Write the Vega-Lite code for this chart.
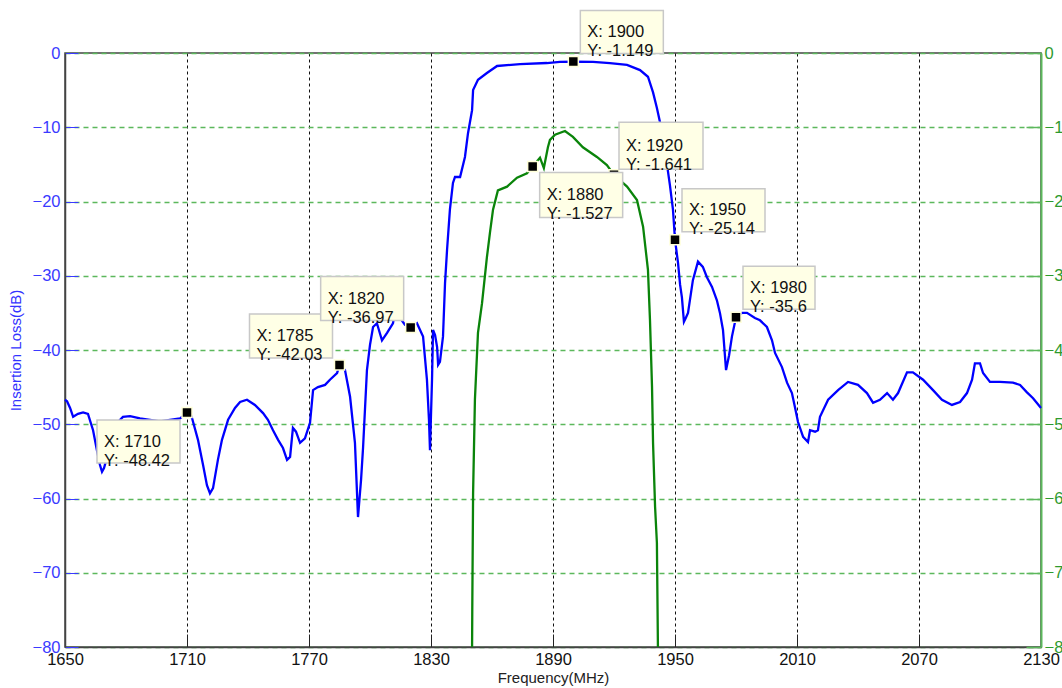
{
  "$schema": "https://vega.github.io/schema/vega-lite/v6.json",
  "width": 976,
  "height": 594,
  "autosize": "none",
  "padding": {"left": 65, "top": 53, "right": 21, "bottom": 41},
  "background": "white",
  "config": {
    "view": {"stroke": "#444444", "strokeWidth": 1.5},
    "axis": {"labelFont": "Liberation Sans", "titleFont": "Liberation Sans", "titleFontWeight": "normal"},
    "text": {"font": "Liberation Sans"}
  },
  "datasets": {
    "blue": [
      {"f":1650,"y":-46.7},{"f":1651,"y":-46.9},{"f":1652.5,"y":-47.8},{"f":1654,"y":-49.0},{"f":1656.4,"y":-48.6},{"f":1658.9,"y":-48.4},{"f":1661.3,"y":-48.6},{"f":1663.8,"y":-50.8},{"f":1665.7,"y":-53.5},{"f":1667.2,"y":-55.5},{"f":1668.2,"y":-56.4},{"f":1669.2,"y":-55.9},{"f":1670.7,"y":-54.4},{"f":1672.1,"y":-52.1},{"f":1674.6,"y":-50.1},{"f":1678.5,"y":-49.0},{"f":1682,"y":-48.9},{"f":1686.9,"y":-49.2},{"f":1691.8,"y":-49.4},{"f":1696.7,"y":-49.6},{"f":1701.6,"y":-49.4},{"f":1706.6,"y":-49.2},{"f":1708.5,"y":-48.8},{"f":1710,"y":-48.42},{"f":1711.5,"y":-48.4},{"f":1712.5,"y":-49.2},{"f":1715.4,"y":-52.1},{"f":1717.9,"y":-55.5},{"f":1719.8,"y":-58.2},{"f":1721.3,"y":-59.3},{"f":1722.8,"y":-58.6},{"f":1725.2,"y":-54.8},{"f":1727.2,"y":-52.1},{"f":1730.2,"y":-49.4},{"f":1733.6,"y":-47.8},{"f":1736.1,"y":-47.0},{"f":1739.5,"y":-46.7},{"f":1743.4,"y":-47.4},{"f":1747.4,"y":-48.5},{"f":1749.8,"y":-49.4},{"f":1752.3,"y":-50.8},{"f":1754.8,"y":-52.1},{"f":1757.2,"y":-53.2},{"f":1759.2,"y":-54.8},{"f":1760.7,"y":-54.4},{"f":1762.1,"y":-50.5},{"f":1763.6,"y":-51.0},{"f":1765.6,"y":-52.5},{"f":1768,"y":-51.9},{"f":1770.5,"y":-49.8},{"f":1772,"y":-45.4},{"f":1774.4,"y":-45.0},{"f":1777.9,"y":-44.7},{"f":1780.3,"y":-44.0},{"f":1783.8,"y":-43.1},{"f":1785,"y":-42.03},{"f":1787.7,"y":-42.7},{"f":1790.2,"y":-46.3},{"f":1792.6,"y":-52.5},{"f":1794.1,"y":-62.5},{"f":1795.6,"y":-57.5},{"f":1796.6,"y":-53.1},{"f":1798.5,"y":-42.7},{"f":1800,"y":-39.3},{"f":1801.5,"y":-36.9},{"f":1803.4,"y":-36.4},{"f":1805.9,"y":-38.7},{"f":1808.4,"y":-37.7},{"f":1811.3,"y":-36.4},{"f":1812.3,"y":-34.9},{"f":1814.8,"y":-35.7},{"f":1817.2,"y":-36.6},{"f":1820,"y":-36.97},{"f":1823.1,"y":-36.4},{"f":1826.1,"y":-38.2},{"f":1828,"y":-44.0},{"f":1829,"y":-49.4},{"f":1829.5,"y":-53.5},{"f":1830.5,"y":-44.0},{"f":1831,"y":-37.3},{"f":1832,"y":-38.0},{"f":1833,"y":-39.6},{"f":1833.5,"y":-42.0},{"f":1834.4,"y":-41.6},{"f":1835.9,"y":-38.2},{"f":1836.9,"y":-31.0},{"f":1837.9,"y":-26.5},{"f":1839.3,"y":-21.1},{"f":1840.8,"y":-17.5},{"f":1841.8,"y":-16.7},{"f":1844.3,"y":-16.7},{"f":1846.7,"y":-14.0},{"f":1848.2,"y":-10.8},{"f":1850.2,"y":-7.7},{"f":1850.7,"y":-5.0},{"f":1853.1,"y":-3.6},{"f":1857.5,"y":-2.7},{"f":1862.5,"y":-1.75},{"f":1873.8,"y":-1.5},{"f":1887,"y":-1.35},{"f":1893.4,"y":-1.2},{"f":1900,"y":-1.149},{"f":1909.7,"y":-1.2},{"f":1918,"y":-1.35},{"f":1926.4,"y":-1.6},{"f":1932.8,"y":-2.3},{"f":1936.7,"y":-3.2},{"f":1939.2,"y":-5.3},{"f":1941.1,"y":-7.4},{"f":1942.6,"y":-9.3},{"f":1944.1,"y":-12.4},{"f":1946.1,"y":-15.1},{"f":1947.5,"y":-17.8},{"f":1949,"y":-21.1},{"f":1950,"y":-25.14},{"f":1951.5,"y":-28.3},{"f":1952.5,"y":-31.2},{"f":1953.4,"y":-32.9},{"f":1954.4,"y":-36.2},{"f":1955.3,"y":-35.7},{"f":1956.4,"y":-35.0},{"f":1958.8,"y":-30.6},{"f":1961.3,"y":-28.1},{"f":1963.7,"y":-28.8},{"f":1965.7,"y":-30.2},{"f":1968.2,"y":-31.5},{"f":1970.6,"y":-33.3},{"f":1972.1,"y":-35.0},{"f":1973.6,"y":-37.3},{"f":1975.1,"y":-42.7},{"f":1976.6,"y":-40.7},{"f":1978,"y":-38.2},{"f":1980,"y":-35.6},{"f":1983,"y":-35.0},{"f":1985.4,"y":-35.0},{"f":1989.3,"y":-35.7},{"f":1991.8,"y":-36.0},{"f":1995.2,"y":-36.9},{"f":1997.7,"y":-38.7},{"f":1999.2,"y":-40.4},{"f":2002.6,"y":-42.3},{"f":2005.1,"y":-44.4},{"f":2007.5,"y":-45.8},{"f":2009,"y":-47.7},{"f":2010.5,"y":-49.7},{"f":2013,"y":-51.7},{"f":2015.4,"y":-52.4},{"f":2016.4,"y":-50.8},{"f":2018.9,"y":-51.0},{"f":2020.3,"y":-50.8},{"f":2021.3,"y":-49.0},{"f":2025.3,"y":-46.7},{"f":2030.2,"y":-45.4},{"f":2035.1,"y":-44.3},{"f":2040,"y":-44.7},{"f":2044.4,"y":-45.8},{"f":2047.4,"y":-47.1},{"f":2050.8,"y":-46.7},{"f":2054.3,"y":-45.8},{"f":2057.2,"y":-46.7},{"f":2059.7,"y":-45.8},{"f":2064.1,"y":-43.0},{"f":2067,"y":-43.0},{"f":2072,"y":-44.0},{"f":2076.9,"y":-45.4},{"f":2081.3,"y":-46.7},{"f":2086.2,"y":-47.4},{"f":2090.2,"y":-47.0},{"f":2093.6,"y":-45.8},{"f":2096.1,"y":-44.0},{"f":2097.5,"y":-41.8},{"f":2100,"y":-41.8},{"f":2101.5,"y":-43.1},{"f":2104.9,"y":-44.3},{"f":2109.8,"y":-44.3},{"f":2116.2,"y":-44.4},{"f":2119.7,"y":-44.7},{"f":2123.1,"y":-45.7},{"f":2126.1,"y":-46.5},{"f":2130,"y":-47.8}
    ],
    "green": [
      {"f":1850.2,"y":-8.0},{"f":1850.3,"y":-7.5},{"f":1850.7,"y":-5.93},{"f":1851.6,"y":-4.67},{"f":1853.1,"y":-3.77},{"f":1855.1,"y":-3.37},{"f":1857.5,"y":-2.75},{"f":1859,"y":-2.42},{"f":1860.5,"y":-2.11},{"f":1862.9,"y":-1.85},{"f":1867.4,"y":-1.80},{"f":1872.3,"y":-1.68},{"f":1877.2,"y":-1.62},{"f":1880,"y":-1.527},{"f":1883.6,"y":-1.41},{"f":1885.5,"y":-1.55},{"f":1887.5,"y":-1.27},{"f":1888.5,"y":-1.17},{"f":1891,"y":-1.10},{"f":1895.9,"y":-1.05},{"f":1899.8,"y":-1.13},{"f":1904.7,"y":-1.27},{"f":1911.6,"y":-1.40},{"f":1916.5,"y":-1.51},{"f":1920,"y":-1.641},{"f":1926.4,"y":-1.80},{"f":1931.3,"y":-1.98},{"f":1934.3,"y":-2.34},{"f":1936.7,"y":-2.92},{"f":1937.7,"y":-3.60},{"f":1938.7,"y":-4.50},{"f":1939.2,"y":-5.25},{"f":1940.2,"y":-6.11},{"f":1941.1,"y":-6.60},{"f":1941.6,"y":-8.0}
    ],
    "tips": [
      {"f":1710,"y":-48.42,"trace":"blue","tip":"X: 1710\nY: -48.42"},
      {"f":1785,"y":-42.03,"trace":"blue","tip":"X: 1785\nY: -42.03"},
      {"f":1820,"y":-36.97,"trace":"blue","tip":"X: 1820\nY: -36.97"},
      {"f":1900,"y":-1.149,"trace":"blue","tip":"X: 1900\nY: -1.149"},
      {"f":1950,"y":-25.14,"trace":"blue","tip":"X: 1950\nY: -25.14"},
      {"f":1980,"y":-35.6,"trace":"blue","tip":"X: 1980\nY: -35.6"},
      {"f":1880,"y":-1.527,"trace":"green","tip":"X: 1880\nY: -1.527"},
      {"f":1920,"y":-1.641,"trace":"green","tip":"X: 1920\nY: -1.641"}
    ]
  },
  "encoding": {
    "x": {
      "field": "f", "type": "quantitative",
      "scale": {"domain": [1650, 2130], "nice": false, "zero": false},
      "axis": {
        "values": [1650, 1710, 1770, 1830, 1890, 1950, 2010, 2070, 2130],
        "format": "d",
        "title": "Frequency(MHz)", "titleFontSize": 15, "titleColor": "#222222", "titlePadding": 3,
        "labelFontSize": 16.5, "labelColor": "#111111", "labelPadding": 17, "labelFlush": false,
        "tickSize": -13, "tickColor": "#222222",
        "domainColor": "#444444", "domainWidth": 1.5,
        "grid": true, "gridColor": "#111111", "gridDash": [3, 3], "gridWidth": 1
      }
    }
  },
  "layer": [
    {
      "encoding": {
        "y": {
          "field": "y", "type": "quantitative",
          "scale": {"domain": [-80, 0], "nice": false, "zero": false},
          "axis": {
            "orient": "left",
            "values": [0, -10, -20, -30, -40, -50, -60, -70, -80],
            "title": "Insertion Loss(dB)", "titleFontSize": 15, "titleColor": "#3333ff", "titlePadding": 9,
            "labelFontSize": 16.5, "labelColor": "#3a3aff", "labelPadding": 18,
            "tickSize": -13, "tickColor": "#3a3aff", "domainColor": "#444444", "domainWidth": 1.5,
            "grid": true, "gridColor": "#5cb85c", "gridDash": [5, 4], "gridWidth": 1.5
          }
        }
      },
      "layer": [
        {"data": {"name": "blue"}, "mark": {"type": "line", "color": "#0000ff", "strokeWidth": 2.3}},
        {"data": {"name": "tips"}, "transform": [{"filter": "datum.trace == 'blue'"}],
         "mark": {"type": "point", "shape": "square", "filled": true, "size": 100, "color": "#000000", "stroke": "#ffffd8", "strokeWidth": 1.5, "opacity": 1}},
        {"data": {"name": "tips"}, "transform": [{"filter": {"field": "f", "oneOf": [1710]}}],
         "mark": {"type": "rect", "width": 83, "height": 43, "xOffset": -48.5, "yOffset": 29, "fill": "#ffffe6", "stroke": "#c8c8c8", "strokeWidth": 1.5}},
        {"data": {"name": "tips"}, "transform": [{"filter": {"field": "f", "oneOf": [1710]}}],
         "mark": {"type": "text", "lineBreak": "\n", "align": "left", "baseline": "middle", "fontSize": 16.5, "lineHeight": 19, "xOffset": -83, "yOffset": 29, "color": "#111111"},
         "encoding": {"text": {"field": "tip"}}},
        {"data": {"name": "tips"}, "transform": [{"filter": {"field": "f", "oneOf": [1785, 1820]}}],
         "mark": {"type": "rect", "width": 83, "height": 44, "xOffset": -48.5, "yOffset": -29, "fill": "#ffffe6", "stroke": "#c8c8c8", "strokeWidth": 1.5}},
        {"data": {"name": "tips"}, "transform": [{"filter": {"field": "f", "oneOf": [1785, 1820]}}],
         "mark": {"type": "text", "lineBreak": "\n", "align": "left", "baseline": "middle", "fontSize": 16.5, "lineHeight": 19, "xOffset": -83, "yOffset": -29, "color": "#111111"},
         "encoding": {"text": {"field": "tip"}}},
        {"data": {"name": "tips"}, "transform": [{"filter": {"field": "f", "oneOf": [1900, 1950]}}],
         "mark": {"type": "rect", "width": 83, "height": 43, "xOffset": 48.5, "yOffset": -29.5, "fill": "#ffffe6", "stroke": "#c8c8c8", "strokeWidth": 1.5}},
        {"data": {"name": "tips"}, "transform": [{"filter": {"field": "f", "oneOf": [1900, 1950]}}],
         "mark": {"type": "text", "lineBreak": "\n", "align": "left", "baseline": "middle", "fontSize": 16.5, "lineHeight": 19, "xOffset": 14, "yOffset": -29.5, "color": "#111111"},
         "encoding": {"text": {"field": "tip"}}},
        {"data": {"name": "tips"}, "transform": [{"filter": {"field": "f", "oneOf": [1980]}}],
         "mark": {"type": "rect", "width": 72, "height": 43, "xOffset": 43, "yOffset": -29.5, "fill": "#ffffe6", "stroke": "#c8c8c8", "strokeWidth": 1.5}},
        {"data": {"name": "tips"}, "transform": [{"filter": {"field": "f", "oneOf": [1980]}}],
         "mark": {"type": "text", "lineBreak": "\n", "align": "left", "baseline": "middle", "fontSize": 16.5, "lineHeight": 19, "xOffset": 14, "yOffset": -29.5, "color": "#111111"},
         "encoding": {"text": {"field": "tip"}}}
      ]
    },
    {
      "encoding": {
        "y": {
          "field": "y", "type": "quantitative",
          "scale": {"domain": [-8, 0], "nice": false, "zero": false},
          "axis": {
            "orient": "right",
            "values": [0, -1, -2, -3, -4, -5, -6, -7, -8],
            "title": null,
            "labelFontSize": 16.5, "labelColor": "#2e9a2e", "labelPadding": 18,
            "tickSize": -15, "tickColor": "#5cb85c", "tickWidth": 1.5, "domainColor": "#5cb85c", "domainWidth": 2,
            "grid": false
          }
        }
      },
      "layer": [
        {"data": {"name": "green"}, "mark": {"type": "line", "color": "#0a840a", "strokeWidth": 2.3}},
        {"data": {"name": "tips"}, "transform": [{"filter": "datum.trace == 'green'"}],
         "mark": {"type": "point", "shape": "square", "filled": true, "size": 100, "color": "#000000", "stroke": "#ffffd8", "strokeWidth": 1.5, "opacity": 1}},
        {"data": {"name": "tips"}, "transform": [{"filter": {"field": "f", "oneOf": [1880]}}],
         "mark": {"type": "rect", "width": 83, "height": 45, "xOffset": 48.5, "yOffset": 28.5, "fill": "#ffffe6", "stroke": "#c8c8c8", "strokeWidth": 1.5}},
        {"data": {"name": "tips"}, "transform": [{"filter": {"field": "f", "oneOf": [1880]}}],
         "mark": {"type": "text", "lineBreak": "\n", "align": "left", "baseline": "middle", "fontSize": 16.5, "lineHeight": 19, "xOffset": 14, "yOffset": 28.5, "color": "#111111"},
         "encoding": {"text": {"field": "tip"}}},
        {"data": {"name": "tips"}, "transform": [{"filter": {"field": "f", "oneOf": [1920]}}],
         "mark": {"type": "rect", "width": 84, "height": 47, "xOffset": 47, "yOffset": -29, "fill": "#ffffe6", "stroke": "#c8c8c8", "strokeWidth": 1.5}},
        {"data": {"name": "tips"}, "transform": [{"filter": {"field": "f", "oneOf": [1920]}}],
         "mark": {"type": "text", "lineBreak": "\n", "align": "left", "baseline": "middle", "fontSize": 16.5, "lineHeight": 19, "xOffset": 12, "yOffset": -29, "color": "#111111"},
         "encoding": {"text": {"field": "tip"}}}
      ]
    }
  ],
  "resolve": {"scale": {"y": "independent"}}
}
